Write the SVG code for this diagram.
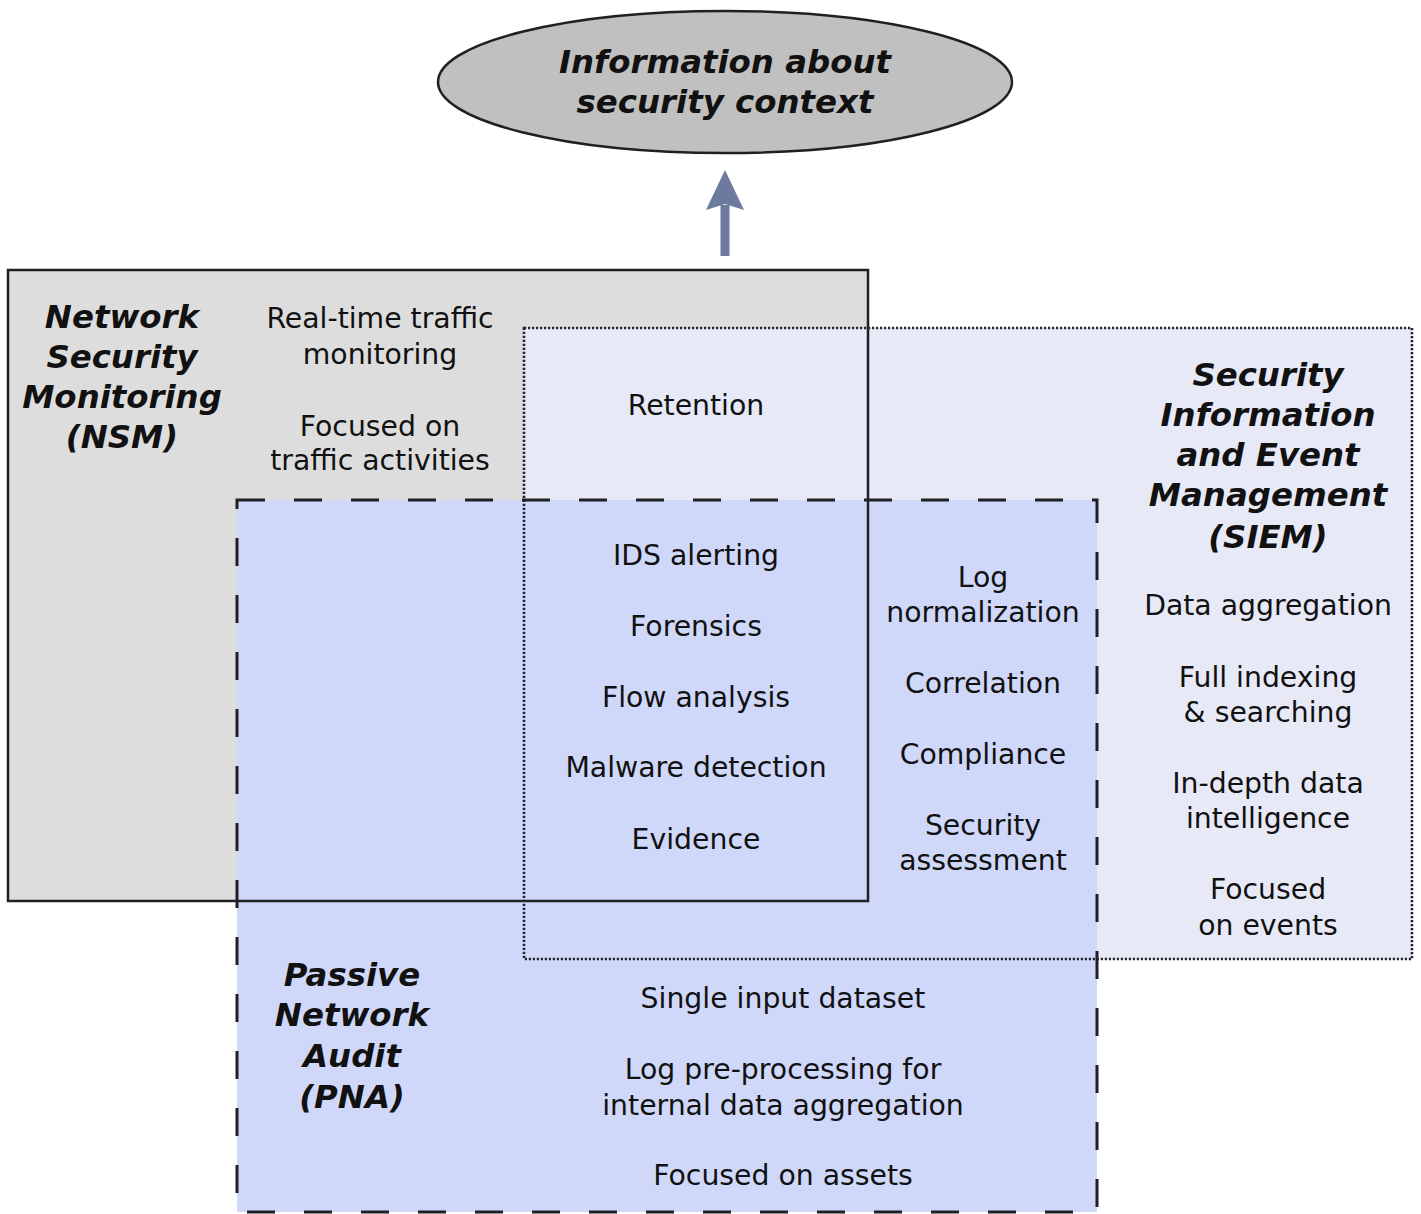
<svg xmlns="http://www.w3.org/2000/svg" width="1421" height="1214" viewBox="0 0 1421 1214">
<style>
.t{font-family:"DejaVu Sans",Verdana,sans-serif;font-size:28.3px;fill:#111;text-anchor:middle}
.h{font-family:"DejaVu Sans",Verdana,sans-serif;font-size:32.4px;font-weight:bold;font-style:italic;fill:#111;text-anchor:middle}
.solid{fill:none;stroke:#1e2024;stroke-width:2.5}
.dot{fill:none;stroke:#23252c;stroke-width:2.6;stroke-dasharray:2.2 1.8}
.dash{fill:none;stroke:#1e2024;stroke-width:3;stroke-dasharray:28 29}
</style>
<rect width="1421" height="1214" fill="#fff"/>
<g id="fills">
<rect x="8" y="270" width="860" height="631" fill="#dddddd"/>
<rect x="524" y="328" width="888" height="631" fill="#e8e9f7"/>
<rect x="237" y="500" width="860" height="712" fill="#d0d8fa"/>
</g>
<g id="nsm">
<rect class="solid" x="8" y="270" width="860" height="631"/>
<text class="h" x="122" y="328">Network</text>
<text class="h" x="122" y="368">Security</text>
<text class="h" x="122" y="408">Monitoring</text>
<text class="h" x="122" y="448">(NSM)</text>
<text class="t" x="380" y="328">Real-time traffic</text>
<text class="t" x="380" y="364">monitoring</text>
<text class="t" x="380" y="436">Focused on</text>
<text class="t" x="380" y="470">traffic activities</text>
</g>
<g id="siem">
<rect class="dot" x="524" y="328" width="888" height="631"/>
<text class="h" x="1268" y="386">Security</text>
<text class="h" x="1268" y="426">Information</text>
<text class="h" x="1268" y="466">and Event</text>
<text class="h" x="1268" y="506">Management</text>
<text class="h" x="1268" y="548">(SIEM)</text>
<text class="t" x="1268" y="615">Data aggregation</text>
<text class="t" x="1268" y="687">Full indexing</text>
<text class="t" x="1268" y="722">&amp; searching</text>
<text class="t" x="1268" y="793">In-depth data</text>
<text class="t" x="1268" y="828">intelligence</text>
<text class="t" x="1268" y="899">Focused</text>
<text class="t" x="1268" y="935">on events</text>
</g>
<g id="pna">
<rect class="dash" x="237" y="500" width="860" height="712"/>
<text class="h" x="352" y="986">Passive</text>
<text class="h" x="352" y="1026">Network</text>
<text class="h" x="352" y="1067">Audit</text>
<text class="h" x="352" y="1108">(PNA)</text>
<text class="t" x="783" y="1008">Single input dataset</text>
<text class="t" x="783" y="1079">Log pre-processing for</text>
<text class="t" x="783" y="1115">internal data aggregation</text>
<text class="t" x="783" y="1185">Focused on assets</text>
</g>
<g id="shared">
<text class="t" x="696" y="415">Retention</text>
<text class="t" x="696" y="565">IDS alerting</text>
<text class="t" x="696" y="636">Forensics</text>
<text class="t" x="696" y="707">Flow analysis</text>
<text class="t" x="696" y="777">Malware detection</text>
<text class="t" x="696" y="849">Evidence</text>
<text class="t" x="983" y="587">Log</text>
<text class="t" x="983" y="622">normalization</text>
<text class="t" x="983" y="693">Correlation</text>
<text class="t" x="983" y="764">Compliance</text>
<text class="t" x="983" y="835">Security</text>
<text class="t" x="983" y="870">assessment</text>
</g>
<g id="context">
<ellipse cx="725" cy="82" rx="287" ry="71" fill="#c0c0c0" stroke="#1e2024" stroke-width="2.5"/>
<text class="h" x="725" y="73">Information about</text>
<text class="h" x="725" y="113">security context</text>
</g>
<g id="connectors">
<line x1="725" y1="256" x2="725" y2="205" stroke="#6b7a9e" stroke-width="9"/>
<polygon points="725,170 744,210 725,204 706,210" fill="#6b7a9e"/>
</g>
</svg>
